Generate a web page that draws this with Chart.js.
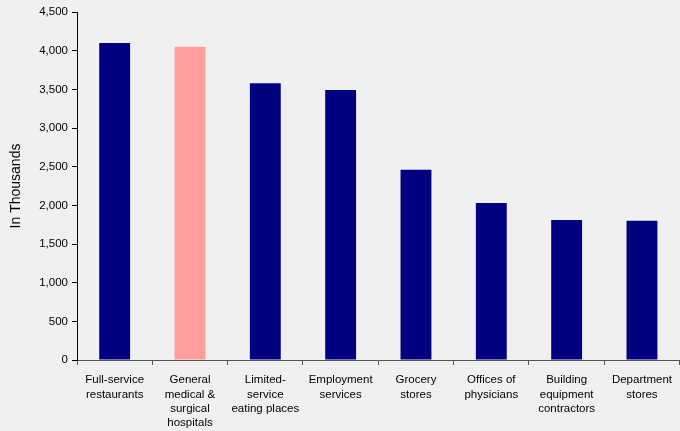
<!DOCTYPE html>
<html lang="en">
<head>
  <meta charset="UTF-8">
  <title>Employment by industry</title>
  <script src="https://cdn.jsdelivr.net/npm/chart.js"></script>
  <style>
    html, body {
      margin: 0;
      padding: 0;
      background: #eff0ef;
    }
    #wrap {
      width: 680px;
      height: 431px;
      position: relative;
    }
  </style>
</head>
<body>
  <div id="wrap"><canvas id="chart"></canvas></div>
  <script>
    // categories (multi-line, as on the original)
    const categories = [
      ['Full-service', 'restaurants'],
      ['General', 'medical &', 'surgical', 'hospitals'],
      ['Limited-', 'service', 'eating places'],
      ['Employment', 'services'],
      ['Grocery', 'stores'],
      ['Offices of', 'physicians'],
      ['Building', 'equipment', 'contractors'],
      ['Department', 'stores']
    ];
    // employment, in thousands
    const values = [4100, 4050, 3580, 3490, 2460, 2030, 1810, 1800];
    const barColors = ['#000080', '#ff9f9c', '#000080', '#000080', '#000080', '#000080', '#000080', '#000080'];
    const yTicks = [0, 500, 1000, 1500, 2000, 2500, 3000, 3500, 4000, 4500];

    const font = 'Liberation Sans, Arial, sans-serif';

    new Chart(document.getElementById('chart'), {
      type: 'bar',
      data: {
        labels: categories,
        datasets: [{
          data: values,
          backgroundColor: barColors,
          borderWidth: 0,
          barPercentage: 0.41,
          categoryPercentage: 1
        }]
      },
      options: {
        responsive: true,
        maintainAspectRatio: false,
        animation: false,
        layout: { padding: { top: 12, right: 0, left: 0, bottom: 0 } },
        plugins: {
          legend: { display: false },
          tooltip: { enabled: false }
        },
        scales: {
          x: {
            offset: true,
            grid: {
              offset: true,
              drawOnChartArea: false,
              tickLength: 5,
              color: '#555'
            },
            border: { color: '#555', width: 1 },
            ticks: {
              color: '#000',
              font: { family: font, size: 11.5, lineHeight: 1.25 },
              padding: 8,
              maxRotation: 0,
              autoSkip: false
            },
            afterFit: (s) => { s.height = 71; }
          },
          y: {
            min: 0,
            max: 4500,
            afterBuildTicks: (s) => { s.ticks = yTicks.map(v => ({ value: v })); },
            grid: {
              drawOnChartArea: false,
              tickLength: 5,
              color: '#000'
            },
            border: { color: '#000', width: 1 },
            ticks: {
              color: '#000',
              font: { family: font, size: 11.5 },
              padding: 4,
              callback: (v) => v.toLocaleString('en-US')
            },
            title: {
              display: true,
              text: 'In Thousands',
              color: '#000',
              font: { family: font, size: 14 },
              padding: { top: 8, bottom: 0 }
            },
            afterFit: (s) => { s.width = 77; }
          }
        }
      }
    });
  </script>
</body>
</html>
